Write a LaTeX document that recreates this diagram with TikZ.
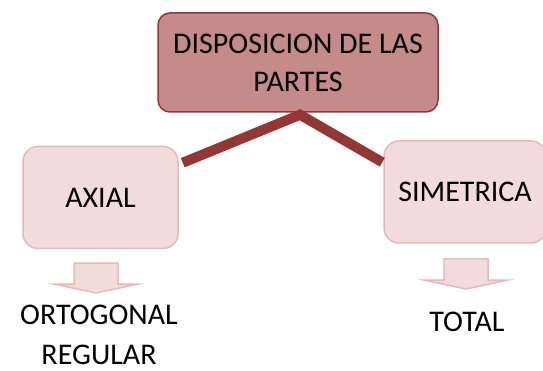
\documentclass[tikz,border=0pt]{standalone}
\usepackage{fontspec}
\setmainfont{Carlito}
\usetikzlibrary{positioning}
\definecolor{darkrose}{HTML}{943634}
\definecolor{rosefill}{HTML}{C48B8A}
\definecolor{palefill}{HTML}{F2DCDB}
\definecolor{paleline}{HTML}{E6B9B8}
\tikzset{
	topbox/.style={draw=darkrose, fill=rosefill, line width=1.5pt, rounded corners=12pt,
		minimum width=280pt, minimum height=99pt, align=center, inner sep=0pt},
	subbox/.style={draw=paleline, fill=palefill, line width=1.5pt, rounded corners=15pt,
		minimum height=102pt, inner sep=0pt},
	leaf/.style={align=center, inner sep=0pt},
	link/.style={draw=darkrose, line width=10pt, line join=miter},
	blockarr/.style={draw=paleline, fill=palefill, line width=1.5pt}
}

\begin{document}
\begin{tikzpicture}[x=1pt,y=-1pt,font=\fontsize{30}{38}\selectfont]
			\useasboundingbox (0,0) rectangle (543,371);
			% Main box
			\node[topbox] (top) at (298,62.5) {DISPOSICION DE LAS\\PARTES};
			
			% Second level
			\node[subbox, minimum width=155pt] (axial) at (100.5,197.5) {AXIAL};
			\node[subbox, minimum width=162pt] (simetrica) at (465,192) {SIMETRICA};
			
			% Connector
			\draw[link] ([xshift=4pt,yshift=-17pt]axial.north east) -- ([xshift=2pt,yshift=-2pt]top.south)
				-- ([xshift=-1pt,yshift=-22pt]simetrica.north west);
			
			% Block arrows
			\foreach \ax/\ay in {96/263, 466/259}
			\draw[blockarr] ({\ax-22},\ay) -- ({\ax+22},\ay) -- ({\ax+22},{\ay+21}) -- ({\ax+42},{\ay+21})
				-- (\ax,{\ay+30}) -- ({\ax-42},{\ay+21}) -- ({\ax-22},{\ay+21}) -- cycle;
			
			% Third level
			\node[leaf, font=\fontsize{30}{40}\selectfont] (ortogonal) at (99,335) {ORTOGONAL\\REGULAR};
			\node[leaf] (total) at (467,322) {TOTAL};
		\end{tikzpicture}
\end{document}
